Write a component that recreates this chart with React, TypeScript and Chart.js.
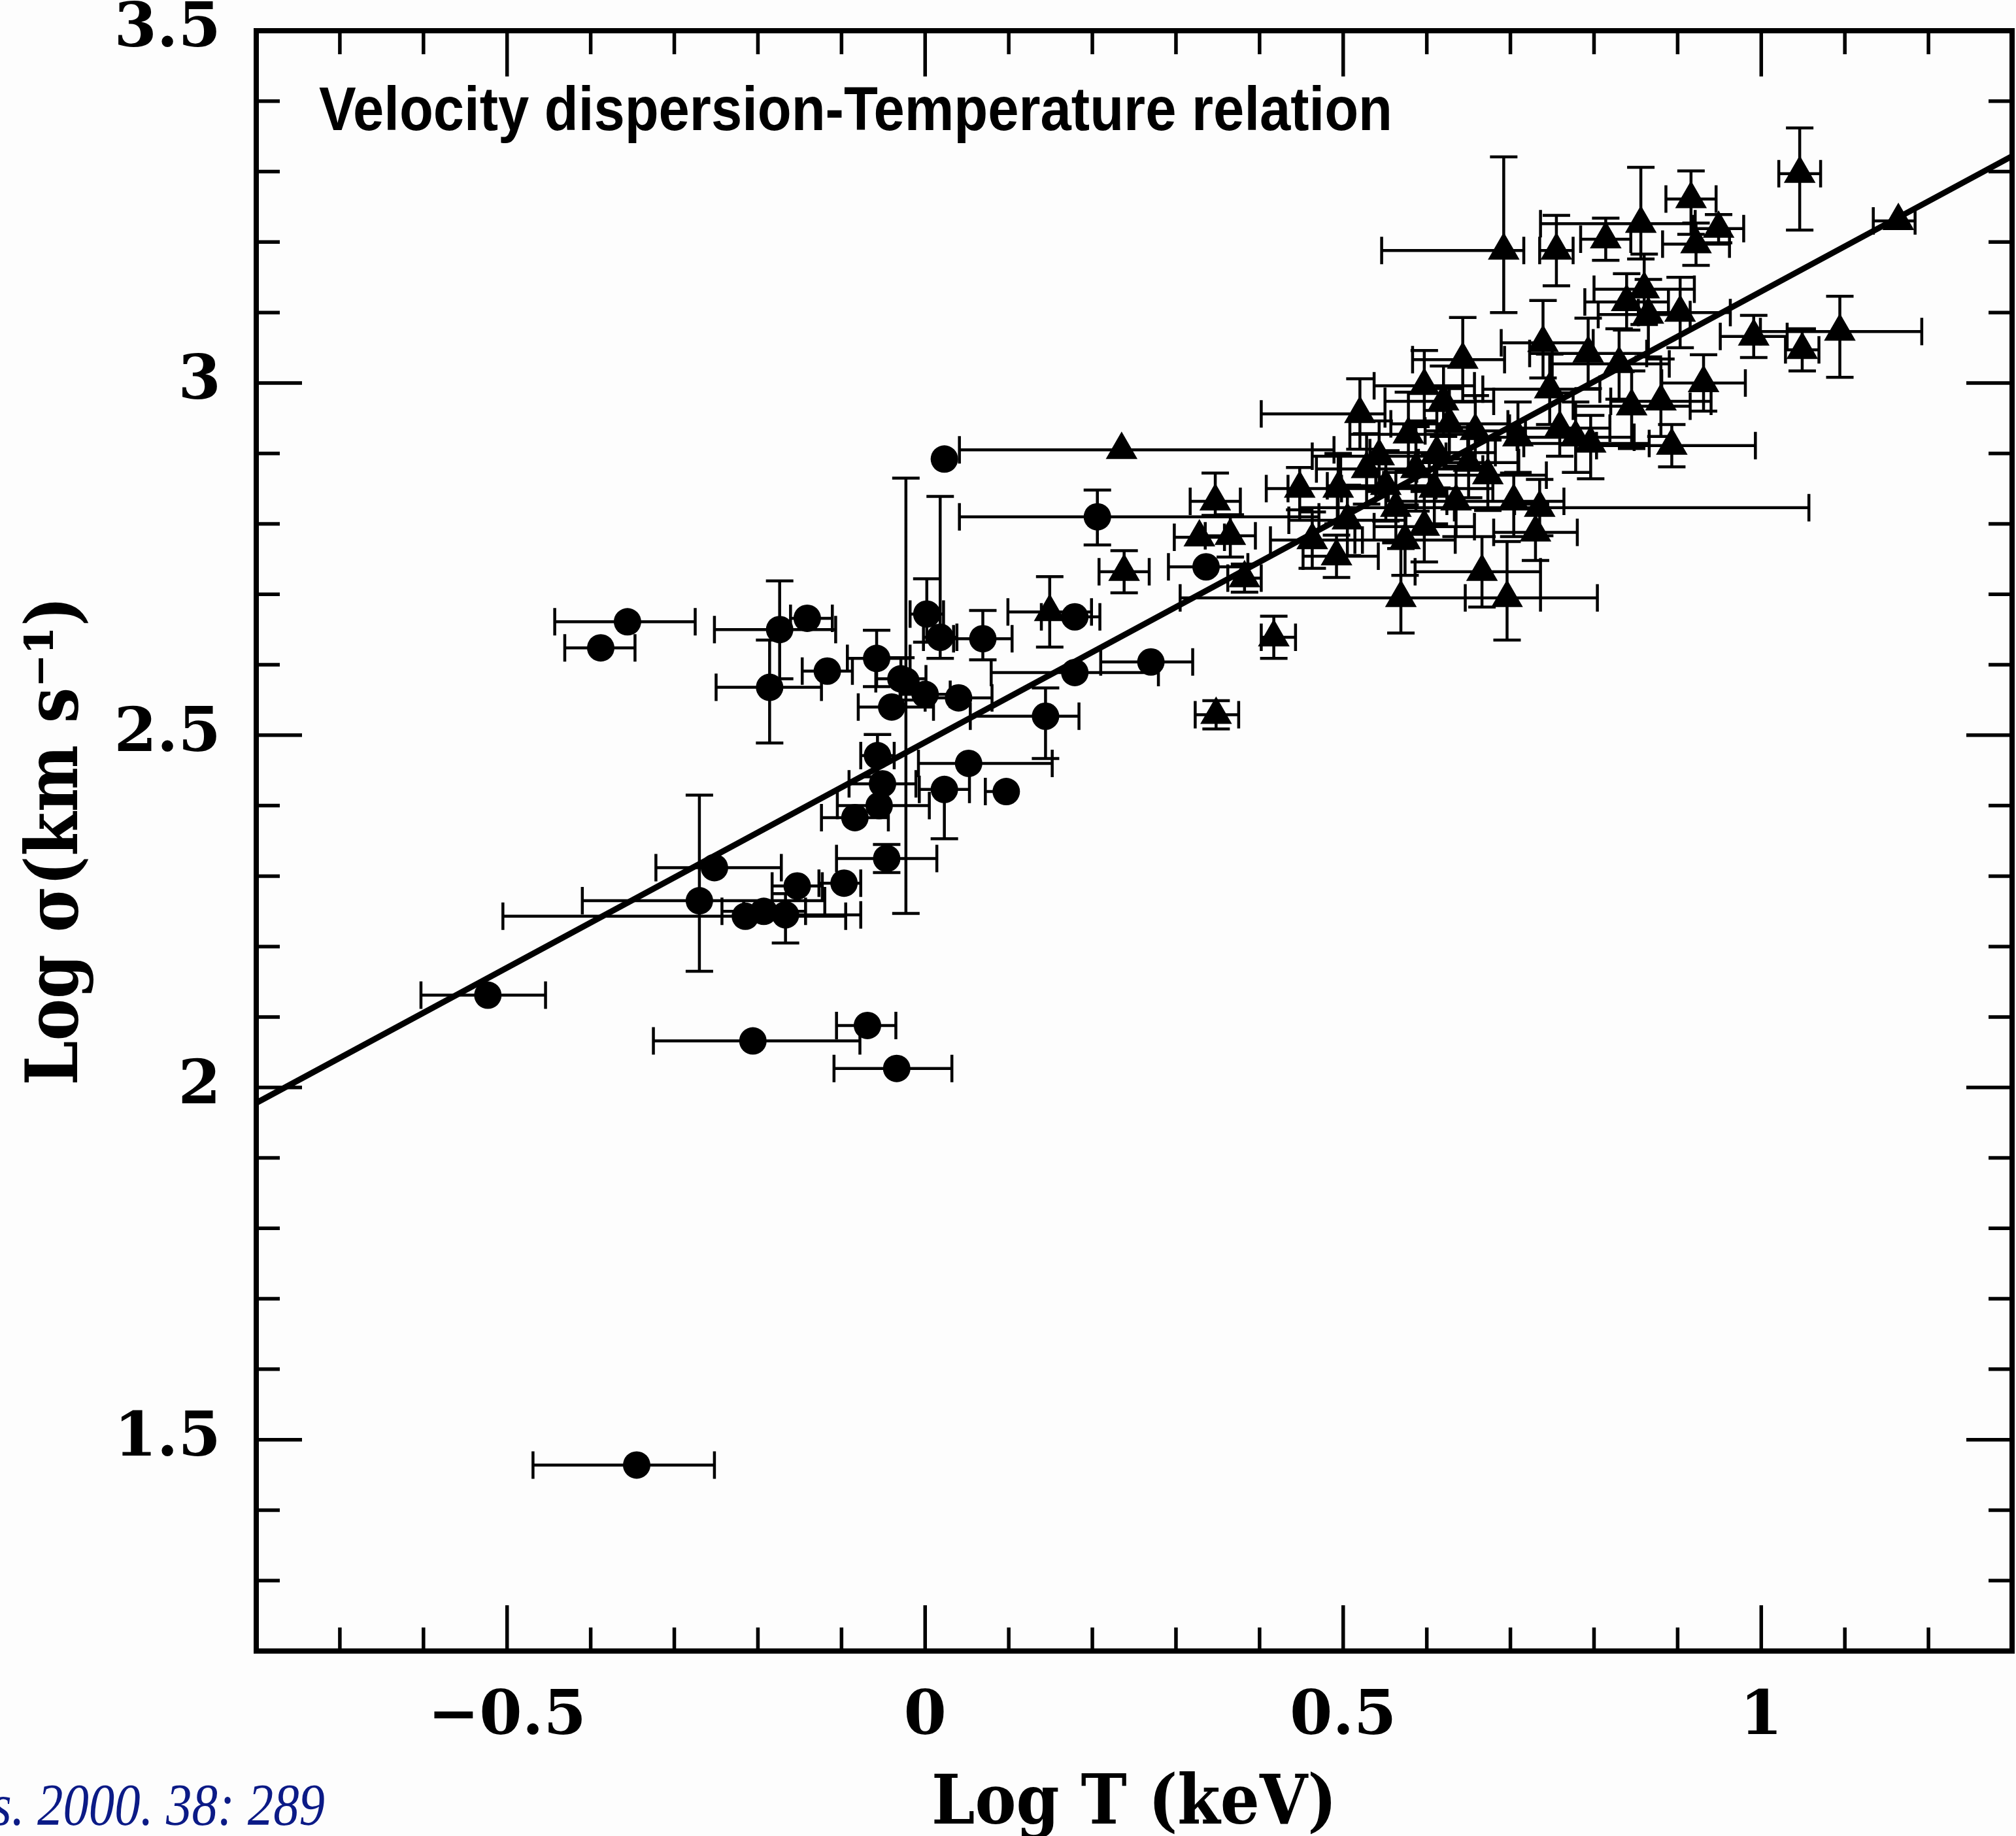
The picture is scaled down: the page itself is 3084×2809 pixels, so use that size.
import React, { useEffect, useRef } from 'react';
import { Chart, registerables } from 'chart.js';

Chart.register(...registerables);

const CANVAS_W = 3084;
const CANVAS_H = 2809;

// Axis ranges and tick labels
const xRange = [-0.8, 1.3];
const yRange = [1.2, 3.5];
const xTickValues = [-0.5, 0, 0.5, 1];
const xTickText = ['\u22120.5', '0', '0.5', '1'];
const yTickValues = [1.5, 2, 2.5, 3, 3.5];
const yTickText = ['1.5', '2', '2.5', '3', '3.5'];

// Fit line (end points)
const fitX = [-0.8, 1.3];
const fitY = [1.978, 3.322];

// Circles (groups)
const circX = [-0.523, -0.345, -0.206, -0.069, -0.034, -0.388, -0.356, -0.186, -0.174, -0.141, -0.117, -0.058, -0.040, -0.029, 0.002, 0.018, 0.000, -0.023, 0.040, 0.069, -0.057, -0.051, -0.055, -0.084, -0.046, 0.023, 0.052, 0.097, 0.023, 0.144, 0.179, 0.179, 0.206, 0.270, 0.336, -0.270, -0.252, -0.215, -0.193, -0.167, -0.153, -0.097];
const circY = [2.131, 1.464, 2.066, 2.088, 2.027, 2.624, 2.661, 2.568, 2.650, 2.666, 2.591, 2.609, 2.540, 2.580, 2.672, 2.639, 2.558, 2.577, 2.553, 2.637, 2.471, 2.431, 2.400, 2.383, 2.325, 2.423, 2.460, 2.420, 2.892, 2.527, 2.589, 2.668, 2.810, 2.604, 2.739, 2.265, 2.312, 2.243, 2.250, 2.245, 2.286, 2.290];
const circXLo = [0.080, 0.124, 0.119, 0.037, 0.075, 0.043, 0.087, 0.064, 0.078, 0.020, 0.030, 0.035, 0.040, 0.030, 0.020, 0.020, 0.030, 0.000, 0.040, 0.035, 0.020, 0.040, 0.050, 0.040, 0.060, 0.030, 0.060, 0.025, 0.000, 0.090, 0.100, 0.040, 0.165, 0.060, 0.045, 0.140, 0.070, 0.290, 0.050, 0.050, 0.030, 0.030];
const circXHi = [0.069, 0.093, 0.128, 0.034, 0.066, 0.041, 0.081, 0.062, 0.067, 0.030, 0.030, 0.040, 0.050, 0.030, 0.020, 0.020, 0.030, 0.000, 0.040, 0.035, 0.020, 0.040, 0.060, 0.040, 0.060, 0.030, 0.100, 0.000, 0.000, 0.040, 0.100, 0.030, 0.265, 0.050, 0.050, 0.150, 0.080, 0.120, 0.050, 0.090, 0.030, 0.020];
const circYLo = [0, 0, 0, 0, 0, 0, 0, 0.079, 0.070, 0, 0, 0.040, 0, 0.030, 0.040, 0.030, 0, 0.330, 0, 0.030, 0.030, 0, 0, 0, 0.020, 0.070, 0, 0, 0, 0.060, 0, 0, 0.040, 0, 0, 0.100, 0, 0, 0, 0.040, 0, 0];
const circYHi = [0, 0, 0, 0, 0, 0, 0, 0.067, 0.069, 0, 0, 0.040, 0, 0.030, 0.050, 0.200, 0, 0.288, 0, 0.040, 0.030, 0, 0, 0, 0.020, 0, 0, 0, 0, 0.040, 0, 0, 0.038, 0, 0, 0.150, 0, 0, 0, 0.030, 0, 0];

// Triangles (clusters)
const triX = [0.692, 0.755, 0.814, 0.856, 0.916, 0.922, 0.949, 1.046, 1.164, 0.991, 1.049, 1.094, 0.893, 0.931, 0.903, 0.865, 0.839, 0.860, 0.830, 0.845, 0.880, 0.793, 0.739, 0.747, 0.759, 0.778, 0.796, 0.709, 0.735, 0.730, 0.704, 0.696, 0.666, 0.650, 0.643, 0.635, 0.620, 0.612, 0.597, 0.587, 0.578, 0.574, 0.569, 0.551, 0.543, 0.520, 0.505, 0.494, 0.492, 0.463, 0.448, 0.417, 0.382, 0.365, 0.348, 0.347, 0.328, 0.238, 0.235, 0.149, 0.627, 0.658, 0.673, 0.563, 0.528, 0.609, 0.597];
const triY = [3.188, 3.188, 3.204, 3.226, 3.261, 3.197, 3.219, 3.297, 3.230, 3.066, 3.047, 3.073, 2.911, 3.000, 3.100, 3.097, 3.115, 3.133, 3.027, 2.967, 2.974, 3.042, 3.057, 2.991, 2.936, 2.923, 2.914, 2.923, 2.823, 2.788, 2.832, 2.695, 2.732, 2.887, 3.033, 2.832, 2.974, 2.901, 2.796, 2.878, 2.927, 2.777, 2.695, 2.854, 2.896, 2.956, 2.805, 2.850, 2.754, 2.777, 2.850, 2.639, 2.723, 2.783, 2.529, 2.832, 2.781, 2.732, 2.905, 2.675, 2.942, 2.932, 2.869, 2.823, 2.878, 2.850, 2.996];
const triXLo = [0.146, 0.020, 0.030, 0.120, 0.030, 0.040, 0.030, 0.025, 0.030, 0.040, 0.020, 0.095, 0.090, 0.050, 0.050, 0.060, 0.050, 0.060, 0.080, 0.070, 0.060, 0.070, 0.050, 0.080, 0.060, 0.070, 0.080, 0.060, 0.287, 0.050, 0.080, 0.050, 0.080, 0.060, 0.060, 0.070, 0.070, 0.080, 0.060, 0.090, 0.070, 0.060, 0.264, 0.070, 0.080, 0.118, 0.070, 0.060, 0.040, 0.050, 0.040, 0.015, 0.020, 0.030, 0.025, 0.030, 0.030, 0.030, 0.194, 0.050, 0.070, 0.060, 0.070, 0.070, 0.060, 0.070, 0.060];
const triXHi = [0.024, 0.020, 0.030, 0.065, 0.030, 0.040, 0.030, 0.025, 0.020, 0.040, 0.020, 0.098, 0.100, 0.050, 0.060, 0.050, 0.050, 0.060, 0.060, 0.070, 0.060, 0.070, 0.060, 0.060, 0.060, 0.070, 0.070, 0.070, 0.322, 0.050, 0.060, 0.040, 0.070, 0.060, 0.050, 0.070, 0.060, 0.070, 0.060, 0.080, 0.080, 0.060, 0.235, 0.060, 0.080, 0.030, 0.070, 0.060, 0.050, 0.060, 0.050, 0.026, 0.020, 0.030, 0.027, 0.030, 0.030, 0.030, 0.254, 0.050, 0.070, 0.060, 0.070, 0.070, 0.060, 0.070, 0.060];
const triYLo = [0.088, 0.050, 0.030, 0.050, 0.050, 0.030, 0.020, 0.080, 0.000, 0.030, 0.030, 0.065, 0.030, 0.040, 0.050, 0.060, 0.040, 0.050, 0.050, 0.060, 0.050, 0.050, 0.050, 0.050, 0.040, 0.050, 0.050, 0.050, 0.040, 0.040, 0.050, 0.060, 0.050, 0.050, 0.060, 0.050, 0.050, 0.050, 0.050, 0.060, 0.050, 0.050, 0.050, 0.050, 0.050, 0.050, 0.050, 0.050, 0.030, 0.040, 0.030, 0.030, 0.020, 0.030, 0.020, 0.020, 0.000, 0.030, 0.000, 0.050, 0.050, 0.050, 0.050, 0.050, 0.050, 0.050, 0.050];
const triYHi = [0.133, 0.050, 0.030, 0.080, 0.040, 0.030, 0.020, 0.065, 0.000, 0.030, 0.030, 0.050, 0.030, 0.040, 0.050, 0.050, 0.040, 0.050, 0.050, 0.050, 0.060, 0.050, 0.060, 0.050, 0.050, 0.050, 0.040, 0.050, 0.040, 0.040, 0.040, 0.080, 0.050, 0.050, 0.060, 0.050, 0.050, 0.060, 0.050, 0.060, 0.060, 0.050, 0.070, 0.050, 0.050, 0.050, 0.050, 0.050, 0.030, 0.040, 0.030, 0.030, 0.020, 0.030, 0.020, 0.040, 0.000, 0.030, 0.000, 0.050, 0.050, 0.050, 0.050, 0.050, 0.050, 0.050, 0.050];

const titleText = 'Velocity dispersion-Temperature relation';
const xTitleText = 'Log T (keV)';
const yTitleText = 'Log \u03c3(km s\u207b\u00b9)';
const citationText = 's. 2000. 38: 289';

const tickFont = '"DejaVu Serif", serif';

function labelFor(v: number, vals: number[], texts: string[]) {
  for (let i = 0; i < vals.length; i++) {
    if (Math.abs(v - vals[i]) < 1e-6) return texts[i];
  }
  return '';
}

function isMajor(v: number) {
  return Math.abs(v * 2 - Math.round(v * 2)) < 1e-6;
}

const errorSets = [
  { x: circX, y: circY, xlo: circXLo, xhi: circXHi, ylo: circYLo, yhi: circYHi },
  { x: triX, y: triY, xlo: triXLo, xhi: triXHi, ylo: triYLo, yhi: triYHi },
];

const backgroundPlugin = {
  id: 'bg',
  beforeDraw(chart: any) {
    const ctx = chart.ctx;
    ctx.save();
    ctx.fillStyle = '#fdfdfd';
    ctx.fillRect(0, 0, chart.width, chart.height);
    ctx.restore();
  },
};

const errorBarPlugin = {
  id: 'errorBars',
  beforeDatasetsDraw(chart: any) {
    const { ctx, chartArea: a, scales } = chart;
    const xs = scales.x;
    const ys = scales.y;
    const cap = 21;
    ctx.save();
    ctx.beginPath();
    ctx.rect(a.left, a.top, a.right - a.left, a.bottom - a.top);
    ctx.clip();
    ctx.strokeStyle = '#000';
    ctx.lineWidth = 4.5;
    ctx.lineCap = 'butt';
    ctx.beginPath();
    for (const s of errorSets) {
      for (let i = 0; i < s.x.length; i++) {
        const px = xs.getPixelForValue(s.x[i]);
        const py = ys.getPixelForValue(s.y[i]);
        if (s.xlo[i] > 0 || s.xhi[i] > 0) {
          const l = xs.getPixelForValue(s.x[i] - s.xlo[i]);
          const r = xs.getPixelForValue(s.x[i] + s.xhi[i]);
          ctx.moveTo(l, py);
          ctx.lineTo(r, py);
          if (s.xlo[i] > 0) { ctx.moveTo(l, py - cap); ctx.lineTo(l, py + cap); }
          if (s.xhi[i] > 0) { ctx.moveTo(r, py - cap); ctx.lineTo(r, py + cap); }
        }
        if (s.ylo[i] > 0 || s.yhi[i] > 0) {
          const b = ys.getPixelForValue(s.y[i] - s.ylo[i]);
          const t = ys.getPixelForValue(s.y[i] + s.yhi[i]);
          ctx.moveTo(px, b);
          ctx.lineTo(px, t);
          if (s.ylo[i] > 0) { ctx.moveTo(px - cap, b); ctx.lineTo(px + cap, b); }
          if (s.yhi[i] > 0) { ctx.moveTo(px - cap, t); ctx.lineTo(px + cap, t); }
        }
      }
    }
    ctx.stroke();
    ctx.restore();
  },
};

const framePlugin = {
  id: 'frame',
  afterDatasetsDraw(chart: any) {
    const { ctx, chartArea: a, scales } = chart;
    const xs = scales.x;
    const ys = scales.y;
    ctx.save();
    ctx.strokeStyle = '#000';
    ctx.lineWidth = 5.5;
    ctx.beginPath();
    xs.ticks.forEach((t: any) => {
      const px = xs.getPixelForValue(t.value);
      const len = isMajor(t.value) ? 70 : 36;
      ctx.moveTo(px, a.bottom);
      ctx.lineTo(px, a.bottom - len);
      ctx.moveTo(px, a.top);
      ctx.lineTo(px, a.top + len);
    });
    ys.ticks.forEach((t: any) => {
      const py = ys.getPixelForValue(t.value);
      const len = isMajor(t.value) ? 70 : 36;
      ctx.moveTo(a.left, py);
      ctx.lineTo(a.left + len, py);
      ctx.moveTo(a.right, py);
      ctx.lineTo(a.right - len, py);
    });
    ctx.stroke();
    ctx.lineWidth = 8;
    ctx.strokeRect(a.left, a.top, a.right - a.left, a.bottom - a.top);
    ctx.restore();
  },
};

function fitText(ctx: CanvasRenderingContext2D, text: string, x: number, y: number, width: number, align: 'left' | 'center' | 'right') {
  const w = ctx.measureText(text).width;
  const sx = width / w;
  ctx.save();
  ctx.translate(x, y);
  ctx.scale(sx, 1);
  ctx.textAlign = align;
  ctx.fillText(text, 0, 0);
  ctx.restore();
}

const textPlugin = {
  id: 'texts',
  afterDraw(chart: any) {
    const { ctx, chartArea: a } = chart;
    ctx.save();
    ctx.fillStyle = '#000';
    ctx.textBaseline = 'alphabetic';

    ctx.font = 'bold 94px "Liberation Sans", Arial, sans-serif';
    fitText(ctx, titleText, 488, 199, 1642, 'left');

    ctx.font = 'bold 104px ' + tickFont;
    fitText(ctx, xTitleText, (a.left + a.right) / 2, 2790, 620, 'center');

    ctx.save();
    ctx.translate(118, (a.top + a.bottom) / 2);
    ctx.rotate(-Math.PI / 2);
    ctx.font = 'bold 110px ' + tickFont;
    fitText(ctx, yTitleText, 0, 0, 748, 'center');
    ctx.restore();

    ctx.fillStyle = '#0b1a86';
    ctx.font = 'italic 90px "Liberation Serif", "Times New Roman", serif';
    fitText(ctx, citationText, 497, 2792, 510, 'right');
    ctx.restore();
  },
};

const zeroPad = (s: any) => {
  s.paddingTop = 0;
  s.paddingBottom = 0;
  s.paddingLeft = 0;
  s.paddingRight = 0;
};

export default function App() {
  const canvasRef = useRef<HTMLCanvasElement | null>(null);

  useEffect(() => {
    const canvas = canvasRef.current;
    if (!canvas) return;
    const chart = new Chart(canvas, {
      type: 'scatter',
      data: {
        datasets: [
          {
            type: 'line',
            label: 'fit',
            data: fitX.map((x, i) => ({ x, y: fitY[i] })),
            showLine: true,
            borderColor: '#000',
            borderWidth: 9,
            pointRadius: 0,
            fill: false,
          } as any,
          {
            label: 'circles',
            data: circX.map((x, i) => ({ x, y: circY[i] })),
            pointStyle: 'circle',
            pointRadius: 21,
            backgroundColor: '#000',
            borderColor: '#000',
            borderWidth: 0,
          },
          {
            label: 'triangles',
            data: triX.map((x, i) => ({ x, y: triY[i] })),
            pointStyle: 'triangle',
            pointRadius: 28,
            backgroundColor: '#000',
            borderColor: '#000',
            borderWidth: 0,
          },
        ],
      },
      options: {
        responsive: false,
        animation: false,
        events: [],
        devicePixelRatio: 1,
        layout: { autoPadding: false, padding: { left: 0, top: 47, right: 6, bottom: 0 } },
        plugins: {
          legend: { display: false },
          tooltip: { enabled: false },
          title: { display: false },
        },
        scales: {
          x: {
            type: 'linear',
            min: xRange[0],
            max: xRange[1],
            afterFit: (s: any) => { s.height = 283; zeroPad(s); },
            grid: { display: false, drawTicks: false },
            border: { display: false },
            ticks: {
              stepSize: 0.1,
              autoSkip: false,
              maxRotation: 0,
              minRotation: 0,
              padding: 46,
              color: '#000',
              font: { family: tickFont, size: 94, weight: 'bold' },
              callback: (v: any) => labelFor(Number(v), xTickValues, xTickText),
            },
          },
          y: {
            type: 'linear',
            min: yRange[0],
            max: yRange[1],
            afterFit: (s: any) => { s.width = 392; zeroPad(s); },
            grid: { display: false, drawTicks: false },
            border: { display: false },
            ticks: {
              stepSize: 0.1,
              autoSkip: false,
              padding: 54,
              color: '#000',
              font: { family: tickFont, size: 94, weight: 'bold' },
              callback: (v: any) => labelFor(Number(v), yTickValues, yTickText),
            },
          },
        },
      } as any,
      plugins: [backgroundPlugin, errorBarPlugin, framePlugin, textPlugin],
    });
    return () => chart.destroy();
  }, []);

  return (
    <div style={{ position: 'absolute', left: 0, top: 0, width: CANVAS_W, height: CANVAS_H, overflow: 'hidden', background: '#fdfdfd' }}>
      <canvas ref={canvasRef} width={CANVAS_W} height={CANVAS_H} style={{ display: 'block' }} />
    </div>
  );
}
